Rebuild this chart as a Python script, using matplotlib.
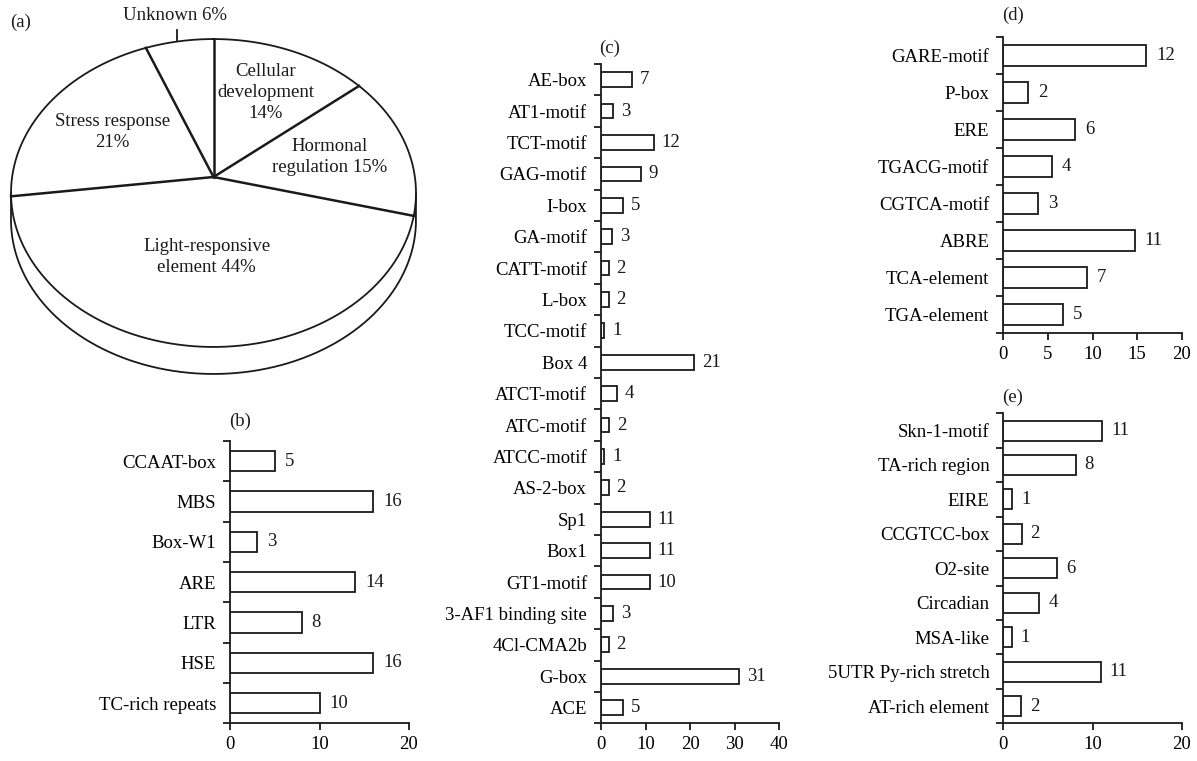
import numpy as np
import matplotlib
matplotlib.use('Agg')
import matplotlib.pyplot as plt

plt.rcParams['font.family'] = ['Liberation Serif', 'DejaVu Serif']
plt.rcParams['font.size'] = 13.5
plt.rcParams['text.color'] = '#1a1a1a'

# (a) pie: share of elements by function, clockwise from 12 o'clock
pie_names = ['Cellular\ndevelopment\n14%', 'Hormonal\nregulation 15%',
             'Light-responsive\nelement 44%', 'Stress response\n21%', 'Unknown 6%']
pie_pct = [14, 15, 44, 21, 6]

# (b)
b_labels = ['CCAAT-box', 'MBS', 'Box-W1', 'ARE', 'LTR', 'HSE', 'TC-rich repeats']
b_counts = [5, 16, 3, 14, 8, 16, 10]

# (c)
c_labels = ['AE-box', 'AT1-motif', 'TCT-motif', 'GAG-motif', 'I-box', 'GA-motif',
            'CATT-motif', 'L-box', 'TCC-motif', 'Box 4', 'ATCT-motif', 'ATC-motif',
            'ATCC-motif', 'AS-2-box', 'Sp1', 'Box1', 'GT1-motif',
            '3-AF1 binding site', '4Cl-CMA2b', 'G-box', 'ACE']
c_bars = [7, 2.8, 11.8, 8.9, 4.9, 2.5, 1.7, 1.7, 0.7, 20.9, 3.5, 1.8,
          0.75, 1.7, 10.9, 10.9, 10.9, 2.8, 1.7, 31, 4.9]
c_counts = [7, 3, 12, 9, 5, 3, 2, 2, 1, 21, 4, 2, 1, 2, 11, 11, 10, 3, 2, 31, 5]

# (d) drawn bar lengths differ from the printed counts in the source figure
d_labels = ['GARE-motif', 'P-box', 'ERE', 'TGACG-motif', 'CGTCA-motif', 'ABRE',
            'TCA-element', 'TGA-element']
d_bars = [16.05, 2.8, 8.05, 5.45, 3.85, 14.75, 9.35, 6.65]
d_counts = [12, 2, 6, 4, 3, 11, 7, 5]

# (e)
e_labels = ['Skn-1-motif', 'TA-rich region', 'EIRE', 'CCGTCC-box', 'O2-site',
            'Circadian', 'MSA-like', '5UTR Py-rich stretch', 'AT-rich element']
e_bars = [11.1, 8.1, 1.0, 2.05, 6.0, 4.05, 0.95, 10.9, 2.0]
e_counts = [11, 8, 1, 2, 6, 4, 1, 11, 2]

W, H = 1197, 761
fig = plt.figure(figsize=(W / 100, H / 100), dpi=100)

# ---- (a) perspective pie, drawn in pixel coordinates
ax = fig.add_axes([0, 0, 1, 1])
ax.set_xlim(0, W)
ax.set_ylim(H, 0)
ax.axis('off')

CX, CY, A, B, K = 213.5, 177.0, 201.4, 152.3, 0.1039
DEPTH = 27
INK = '#1a1a1a'


def project(theta, r=1.0):
    t = np.radians(theta)
    u = r * np.sin(t)
    v = -r * np.cos(t)
    w = 1 - K * v
    return CX + A * u / w, CY + B * v / w


th = np.linspace(0, 360, 1441)
px, py = project(th)
ax.plot(px, py, color=INK, lw=1.3)
# side of the disc: lower rim between the two silhouette points
i_right = np.argmax(px)
i_left = np.argmin(px)
side = np.arange(i_right, i_left + 1)
ax.plot(np.r_[px[i_right], px[side], px[i_left]],
        np.r_[py[i_right], py[side] + DEPTH, py[i_left]], color=INK, lw=1.3)

bounds = np.concatenate([[0], np.cumsum(pie_pct)]) * 3.6
for a in bounds[:-1]:
    x1, y1 = project(a)
    ax.plot([CX, x1], [CY, y1], color=INK, lw=1.8)

label_r = [0.65, 0.6, 0.5, 0.6]
for name, a0, a1, r in zip(pie_names[:-1], bounds[:-2], bounds[1:-1], label_r):
    lx, ly = project((a0 + a1) / 2, r)
    ax.text(lx, ly, name, ha='center', va='center', linespacing=1.3)

# leader for the small slice
mx, my = project((bounds[-2] + bounds[-1]) / 2)
ax.plot([mx - 2, mx - 2], [my, my - 11], color=INK, lw=1.3)
ax.text(mx - 4, my - 17, pie_names[-1], ha='center', va='bottom')
ax.text(10, 22, '(a)', ha='left', va='center')


def bar_panel(rect, labels, bars, counts, xmax, xticks, height, offset, tag, tag_xy):
    bx = fig.add_axes(rect)
    n = len(labels)
    y = np.arange(n)[::-1]
    bx.barh(y, bars, height=height, color='white', edgecolor=INK, linewidth=1.3)
    for yi, b, c in zip(y, bars, counts):
        bx.annotate(str(c), (b, yi), xytext=(offset, 0), textcoords='offset pixels',
                    ha='left', va='center')
    bx.set_xlim(0, xmax)
    bx.set_ylim(-0.5, n - 0.5)
    bx.set_xticks(xticks)
    bx.set_yticks(y, labels)
    bx.set_yticks(np.arange(n + 1) - 0.5, minor=True)
    bx.tick_params(axis='y', which='major', length=0, pad=10)
    bx.tick_params(axis='y', which='minor', length=5, width=1.3, direction='out',
                   color=INK)
    bx.tick_params(axis='x', length=5, width=1.3, direction='out', pad=4, color=INK)
    for s in ('top', 'right'):
        bx.spines[s].set_visible(False)
    for s in ('left', 'bottom'):
        bx.spines[s].set_linewidth(1.3)
        bx.spines[s].set_color(INK)
    bx.set_facecolor('none')
    fig.text(tag_xy[0] / W, 1 - tag_xy[1] / H, tag, ha='center', va='center')
    return bx


bar_panel([230 / W, 0.04954, 179 / W, 0.37096], b_labels, b_counts, b_counts,
          20, [0, 10, 20], 0.51, 10, '(b)', (240, 421))
bar_panel([601 / W, 0.04954, 178 / W, 0.86636], c_labels, c_bars, c_counts,
          40, [0, 10, 20, 30, 40], 0.47, 8, '(c)', (610, 48))
bar_panel([1003.3 / W, 0.56202, 178.4 / W, 0.38975], d_labels, d_bars, d_counts,
          20, [0, 5, 10, 15, 20], 0.575, 10, '(d)', (1013, 15))
bar_panel([1003.3 / W, 0.04954, 178.4 / W, 0.40736], e_labels, e_bars, e_counts,
          20, [0, 10, 20], 0.58, 9, '(e)', (1013, 397))

fig.savefig('out.png', dpi=100)
